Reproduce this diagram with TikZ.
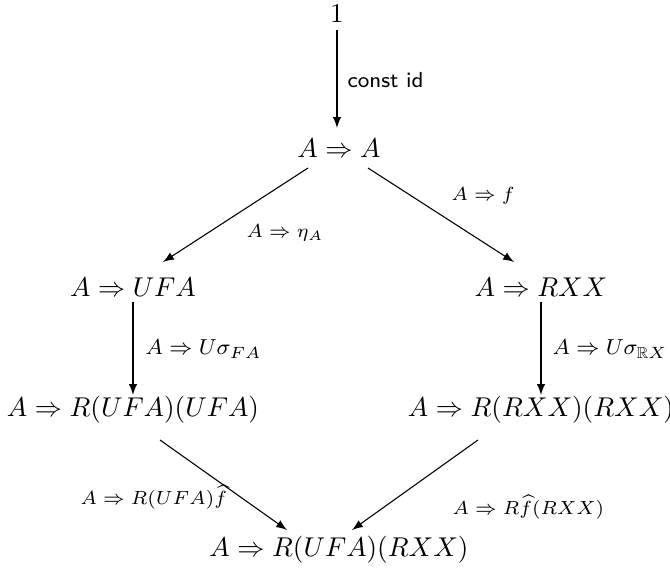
\documentclass[tikz,border=0pt]{standalone}
\usepackage{amsmath,amssymb}
\begin{document}
\begin{tikzpicture}[x=0.368pt,y=-0.368pt,
  obj/.style={inner sep=0pt,font=\normalsize},
  lbl/.style={inner sep=0pt,font=\fontsize{7.4}{9}\selectfont},
  lblbig/.style={inner sep=0pt,font=\fontsize{8.3}{10}\selectfont},
  arr/.style={-latex,line width=0.4pt}]
\useasboundingbox (0,0) rectangle (670,575);
\node[obj] (one) at (337,14) {$1$};
\node[obj] (AA) at (339,148) {$A\Rightarrow A$};
\node[obj] (UFA) at (133,287) {$A\Rightarrow UFA$};
\node[obj] (RXX) at (541,287) {$A\Rightarrow RXX$};
\node[obj] (RUU) at (133,410) {$A\Rightarrow R(UFA)(UFA)$};
\node[obj] (RRR) at (541,410) {$A\Rightarrow R(RXX)(RXX)$};
\node[obj] (BOT) at (339,550) {$A\Rightarrow R(UFA)(RXX)$};
\coordinate (s1) at (337,30);
\coordinate (e1) at (337,128);
\coordinate (s2) at (308,168);
\coordinate (e2) at (163,262);
\coordinate (s3) at (368,168);
\coordinate (e3) at (514,262);
\coordinate (s4) at (133,302);
\coordinate (e4) at (133,395);
\coordinate (s5) at (541,302);
\coordinate (e5) at (541,395);
\coordinate (s6) at (160,440);
\coordinate (e6) at (287,530);
\coordinate (s7) at (478,440);
\coordinate (e7) at (352,530);
\draw[arr] (s1) -- (e1);
\draw[arr] (s2) -- (e2);
\draw[arr] (s3) -- (e3);
\draw[arr] (s4) -- (e4);
\draw[arr] (s5) -- (e5);
\draw[arr] (s6) -- (e6);
\draw[arr] (s7) -- (e7);
\node[inner sep=0pt,font=\footnotesize,anchor=west] (l1) at (347,80) {\textsf{const id}};
\node[lbl,anchor=west] (l2) at (246,233) {$A\Rightarrow \eta_A$};
\node[lbl,anchor=west] (l3) at (451,196) {$A\Rightarrow f$};
\node[lblbig,anchor=west] (l4) at (145,349) {$A\Rightarrow U\sigma_{FA}$};
\node[lblbig,anchor=west] (l5) at (552,349) {$A\Rightarrow U\sigma_{\mathbb{R}X}$};
\node[lbl,anchor=west] (l6) at (80,497) {$A\Rightarrow R(UFA)\widehat{f}$};
\node[lbl,anchor=west] (l7) at (452,507) {$A\Rightarrow R\widehat{f}(RXX)$};
\end{tikzpicture}
\end{document}
